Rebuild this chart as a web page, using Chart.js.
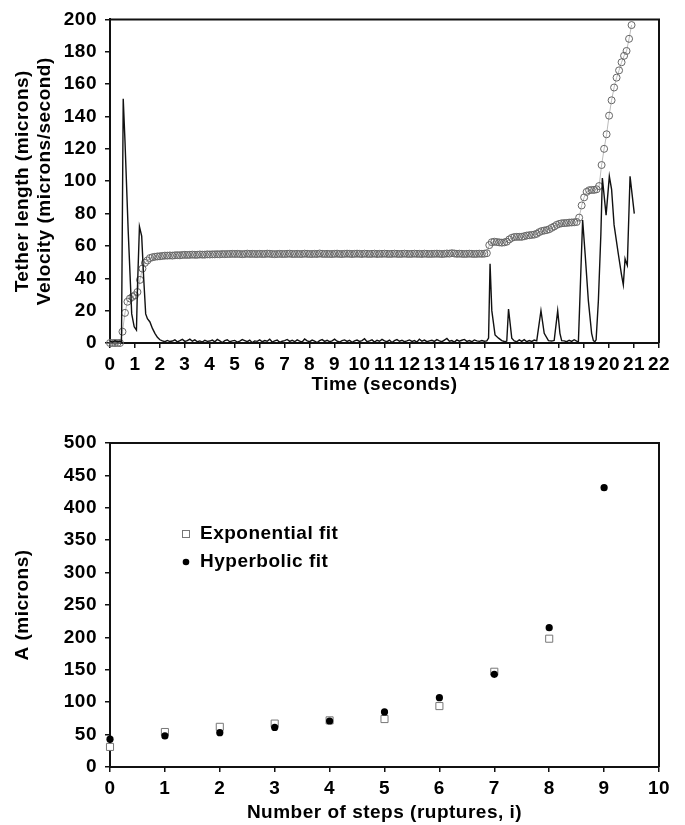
<!DOCTYPE html>
<html>
<head>
<meta charset="utf-8">
<script src="https://cdn.jsdelivr.net/npm/chart.js@4.4.1/dist/chart.umd.min.js"></script>
<style>
  body { margin: 0; background: #fff; }
  canvas { display: block; }
</style>
</head>
<body>
<canvas id="tetherChart" width="685" height="400"></canvas>
<canvas id="fitChart" width="685" height="425"></canvas>
<script>
// time axis of the tether length samples (seconds)
const tetherTime = [
  0, 0.1, 0.2, 0.3, 0.4, 0.5, 0.6, 0.7, 0.8, 0.9,
  1, 1.1, 1.2, 1.3, 1.4, 1.5, 1.6, 1.7, 1.8, 1.9,
  2, 2.1, 2.2, 2.3, 2.4, 2.5, 2.6, 2.7, 2.8, 2.9,
  3, 3.1, 3.2, 3.3, 3.4, 3.5, 3.6, 3.7, 3.8, 3.9,
  4, 4.1, 4.2, 4.3, 4.4, 4.5, 4.6, 4.7, 4.8, 4.9,
  5, 5.1, 5.2, 5.3, 5.4, 5.5, 5.6, 5.7, 5.8, 5.9,
  6, 6.1, 6.2, 6.3, 6.4, 6.5, 6.6, 6.7, 6.8, 6.9,
  7, 7.1, 7.2, 7.3, 7.4, 7.5, 7.6, 7.7, 7.8, 7.9,
  8, 8.1, 8.2, 8.3, 8.4, 8.5, 8.6, 8.7, 8.8, 8.9,
  9, 9.1, 9.2, 9.3, 9.4, 9.5, 9.6, 9.7, 9.8, 9.9,
  10, 10.1, 10.2, 10.3, 10.4, 10.5, 10.6, 10.7, 10.8, 10.9,
  11, 11.1, 11.2, 11.3, 11.4, 11.5, 11.6, 11.7, 11.8, 11.9,
  12, 12.1, 12.2, 12.3, 12.4, 12.5, 12.6, 12.7, 12.8, 12.9,
  13, 13.1, 13.2, 13.3, 13.4, 13.5, 13.6, 13.7, 13.8, 13.9,
  14, 14.1, 14.2, 14.3, 14.4, 14.5, 14.6, 14.7, 14.8, 14.9,
  15, 15.1, 15.2, 15.3, 15.4, 15.5, 15.6, 15.7, 15.8, 15.9,
  16, 16.1, 16.2, 16.3, 16.4, 16.5, 16.6, 16.7, 16.8, 16.9,
  17, 17.1, 17.2, 17.3, 17.4, 17.5, 17.6, 17.7, 17.8, 17.9,
  18, 18.1, 18.2, 18.3, 18.4, 18.5, 18.6, 18.7, 18.8, 18.9,
  19, 19.1, 19.2, 19.3, 19.4, 19.5, 19.6, 19.7, 19.8, 19.9,
  20, 20.1, 20.2, 20.3, 20.4, 20.5, 20.6, 20.7, 20.8, 20.9
];

// tether length (microns)
const tetherLength = [
  0, 0, 0, 0, 0, 7, 18.6, 25.5, 27.5, 28.5,
  29.5, 31.5, 39, 46, 49.5, 51, 52.5, 53, 53.3, 53.5,
  53.6, 53.8, 54, 54, 54.1, 54, 54.2, 54.3, 54.2, 54.4,
  54.5, 54.4, 54.5, 54.6, 54.5, 54.5, 54.7, 54.6, 54.6, 54.8,
  54.7, 54.8, 54.8, 54.9, 54.8, 55, 54.9, 55, 55, 55.1,
  55, 55.1, 55, 54.9, 55, 55.2, 55, 55.1, 55, 55,
  55.1, 55, 55, 55.2, 55.1, 55, 54.9, 55, 55.1, 55,
  55, 55.1, 55.2, 55, 55, 55.1, 55, 55, 55.2, 55.1,
  55, 55, 55.1, 55, 55.3, 55.1, 55, 55.1, 55, 55,
  55.1, 55.2, 55, 55, 55.1, 55.2, 55.1, 55, 55.1, 55.2,
  55.1, 55, 55.2, 55.1, 55, 55.1, 55.2, 55, 55.1, 55.1,
  55.2, 55.1, 55, 55.1, 55.2, 55.1, 55, 55.1, 55.2, 55.1,
  55, 55.1, 55.2, 55.1, 55.1, 55, 55.2, 55.1, 55, 55.1,
  55.1, 55.2, 55.1, 55, 55.1, 55.3, 55.2, 55.5, 55.3, 55.1,
  55.2, 55.1, 55, 55.1, 55.2, 55.1, 55, 55.1, 55.2, 55.1,
  55.2, 55.5, 60.5, 62.3, 62.6, 62.4, 62.2, 62, 62.2, 62.6,
  64, 65, 65.5, 65.6, 65.6, 65.6, 66, 66.4, 66.6, 66.8,
  67, 67.5, 68.5, 69.2, 69.5, 69.8, 70.3, 71.2, 72, 73,
  73.6, 74, 74.1, 74.2, 74.4, 74.5, 74.6, 74.8, 77.5, 85,
  90, 93.4, 94.4, 94.6, 94.6, 95, 97, 110, 120, 129,
  140.5, 150, 157.9, 164, 168.5, 173.5, 177.5, 180.5, 188, 196.5
];

// velocity trace (microns/second)
const velTime = [
  0, 0.1, 0.2, 0.3, 0.4, 0.46, 0.53, 0.6, 0.73, 0.87, 0.97, 1.06, 1.1, 1.18, 1.27,
  1.35, 1.43, 1.5, 1.6, 1.7, 1.8, 1.9, 2,
  2.1, 2.2, 2.3, 2.4, 2.5, 2.6, 2.7, 2.8, 2.9,
  3, 3.1, 3.2, 3.3, 3.4, 3.5, 3.6, 3.7, 3.8, 3.9,
  4, 4.1, 4.2, 4.3, 4.4, 4.5, 4.6, 4.7, 4.8, 4.9,
  5, 5.1, 5.2, 5.3, 5.4, 5.5, 5.6, 5.7, 5.8, 5.9,
  6, 6.1, 6.2, 6.3, 6.4, 6.5, 6.6, 6.7, 6.8, 6.9,
  7, 7.1, 7.2, 7.3, 7.4, 7.5, 7.6, 7.7, 7.8, 7.9,
  8, 8.1, 8.2, 8.3, 8.4, 8.5, 8.6, 8.7, 8.8, 8.9,
  9, 9.1, 9.2, 9.3, 9.4, 9.5, 9.6, 9.7, 9.8, 9.9,
  10, 10.1, 10.2, 10.3, 10.4, 10.5, 10.6, 10.7, 10.8, 10.9,
  11, 11.1, 11.2, 11.3, 11.4, 11.5, 11.6, 11.7, 11.8, 11.9,
  12, 12.1, 12.2, 12.3, 12.4, 12.5, 12.6, 12.7, 12.8, 12.9,
  13, 13.1, 13.2, 13.3, 13.4, 13.5, 13.6, 13.7, 13.8, 13.9,
  14, 14.1, 14.2, 14.3, 14.4, 14.5, 14.6, 14.7, 14.8, 14.9,
  15, 15.1, 15.17, 15.23, 15.3, 15.43, 15.57, 15.7, 15.83, 15.9, 15.97,
  16.1, 16.2, 16.3, 16.4, 16.5, 16.6, 16.7, 16.8, 16.9,
  17, 17.1, 17.27, 17.4, 17.57, 17.7, 17.8, 17.94, 18.03, 18.1,
  18.2, 18.3, 18.4, 18.5, 18.6, 18.7, 18.77, 18.94, 19.04, 19.17,
  19.3, 19.37, 19.43, 19.48, 19.57, 19.67, 19.73, 19.88, 20.01, 20.1,
  20.2, 20.37, 20.5, 20.57, 20.64, 20.68, 20.73, 20.84, 21.01
];

const velocity = [
  1.0, 0.6, 1.4, 0.8, 1.1, 0.6, 151, 125, 69, 18, 10, 8, 34, 72, 66,
  40, 18, 15, 13, 9, 6, 3.5, 2,
  1.3, 0.8, 1.6, 0.9, 1.2, 2.0, 0.7, 1.4, 2.2,
  1.0, 1.5, 2.4, 1.1, 1.9, 0.8, 1.3, 0.6, 1.7, 1.0,
  1.2, 1.8, 0.7, 2.2, 1.3, 0.3, 1.5, 2.0, 0.8, 1.3,
  1.6, 0.6, 1.2, 2.1, 1.5, 0.8, 1.8, 0.2, 1.3, 1.0,
  1.9, 0.8, 1.5, 1.1, 2.4, 0.6, 1.3, 1.8, 0.4, 1.1,
  1.5, 2.2, 1.0, 1.7, 0.8, 1.9, 1.1, 0.6, 2.5, 1.3,
  0.8, 1.8, 1.1, 0.3, 1.5, 2.1, 1.0, 1.7, 0.8, 1.3,
  2.4, 1.1, 0.6, 1.5, 1.9, 1.0, 1.7, 0.4, 1.3, 1.8,
  1.0, 1.5, 2.6, 0.8, 1.3, 1.9, 0.6, 1.7, 1.1, 2.2,
  1.3, 0.8, 1.8, 0.3, 1.5, 2.1, 1.1, 1.7, 0.8, 1.3,
  1.9, 1.0, 1.5, 0.6, 2.4, 1.1, 1.8, 0.8, 1.3, 1.7,
  1.0, 2.1, 1.3, 0.8, 1.8, 2.8, 1.1, 1.5, 0.6, 1.9,
  1.1, 1.7, 2.2, 1.0, 1.5, 0.8, 1.9, 1.3, 1.0, 1.5,
  1.1, 1.3, 3, 49, 20, 5, 3, 1.5, 0.8, 1.2, 21,
  3, 1.3, 0.8, 1.9, 1.0, 2.1, 0.8, 1.5, 1.0,
  1.8, 1.3, 20, 6, 1.5, 1.2, 1.6, 20, 6, 1.5,
  1.3, 0.8, 1.7, 1.0, 2.0, 1.1, 0.6, 76, 55, 26,
  6, 1.5, 0.8, 2.0, 26, 67, 102, 79, 103, 95,
  73, 55, 42, 36, 52, 50, 48, 103, 80
];

// bottom panel: A vs number of steps
const steps = [0, 1, 2, 3, 4, 5, 6, 7, 8, 9];
const expFit = [31, 54, 62, 67, 72, 74, 94, 147, 198, null];
const hypFit = [43, 48, 53, 61, 71, 85, 107, 143, 215, 431];

Chart.defaults.font.family = "'Liberation Sans', Arial, sans-serif";
Chart.defaults.font.weight = 'bold';
Chart.defaults.font.size = 19;
Chart.defaults.color = '#000';

// box frame on top and right + letter spacing for the wide scanned font
const framePlugin = {
    id: 'frame',
    beforeDraw(chart) {
        chart.ctx.letterSpacing = '0.5px';
    },
    afterDraw(chart) {
        const { ctx, chartArea: a } = chart;
        ctx.save();
        ctx.strokeStyle = '#111';
        ctx.lineWidth = 2;
        ctx.beginPath();
        ctx.moveTo(a.left, a.top);
        ctx.lineTo(a.right, a.top);
        ctx.lineTo(a.right, a.bottom);
        ctx.stroke();
        ctx.restore();
    }
};

function axisStyle(extra) {
    return Object.assign({
        type: 'linear',
        border: { display: true, color: '#111', width: 2 },
        grid: { display: true, drawOnChartArea: false, drawTicks: true, tickLength: 5, color: '#111', lineWidth: 1.5 }
    }, extra);
}

// 上图：系绳长度与速度
function createTetherChart() {
    const ctx = document.getElementById('tetherChart').getContext('2d');
    new Chart(ctx, {
        type: 'line',
        data: {
            datasets: [{
                label: 'Velocity',
                data: velTime.map((t, i) => ({ x: t, y: velocity[i] })),
                borderColor: '#111',
                borderWidth: 1.4,
                pointRadius: 0,
                tension: 0,
                clip: false
            }, {
                label: 'Tether length',
                data: tetherTime.map((t, i) => ({ x: t, y: tetherLength[i] })),
                borderColor: '#bbb',
                borderWidth: 1,
                pointRadius: 3.5,
                pointBorderColor: '#666',
                pointBorderWidth: 1,
                pointBackgroundColor: 'rgba(255,255,255,0)',
                tension: 0,
                clip: false
            }]
        },
        options: {
            responsive: false,
            animation: false,
            layout: { padding: { top: 15, right: 26, left: 0, bottom: 0 } },
            plugins: { legend: { display: false }, tooltip: { enabled: false } },
            scales: {
                x: axisStyle({
                    min: 0, max: 22,
                    ticks: { stepSize: 1, autoSkip: false, maxRotation: 0, padding: 5 },
                    title: { display: true, text: 'Time (seconds)', padding: { top: 0, bottom: 4 } },
                    afterFit(scale) { scale.height = 57; }
                }),
                y: axisStyle({
                    min: 0, max: 200,
                    ticks: { stepSize: 20, padding: 8 },
                    title: {
                        display: true,
                        text: ['Tether length (microns)', 'Velocity (microns/second)'],
                        font: { lineHeight: 1.2 },
                        padding: { top: 11, bottom: 0 }
                    },
                    afterFit(scale) { scale.width = 110; }
                })
            }
        },
        plugins: [framePlugin]
    });
}

// 下图：拟合参数 A
function createFitChart() {
    const ctx = document.getElementById('fitChart').getContext('2d');
    const legendPlugin = {
        id: 'insideLegend',
        afterDraw(chart) {
            const c = chart.ctx;
            c.save();
            c.font = "bold 19px 'Liberation Sans', Arial, sans-serif";
            c.fillStyle = '#000';
            c.textBaseline = 'middle';
            c.fillText('Exponential fit', 200, 134);
            c.fillText('Hyperbolic fit', 200, 162);
            c.strokeStyle = '#777';
            c.lineWidth = 1;
            c.fillStyle = '#fff';
            c.fillRect(182, 131, 7, 7);
            c.strokeRect(182.5, 130.5, 7, 7);
            c.fillStyle = '#000';
            c.beginPath();
            c.arc(186, 162, 3.3, 0, Math.PI * 2);
            c.fill();
            c.restore();
        }
    };
    new Chart(ctx, {
        type: 'scatter',
        data: {
            datasets: [{
                label: 'Hyperbolic fit',
                data: steps.map((s, i) => ({ x: s, y: hypFit[i] })),
                pointStyle: 'circle',
                pointRadius: 3.6,
                pointBackgroundColor: '#000',
                pointBorderColor: '#000',
                pointBorderWidth: 0,
                clip: false
            }, {
                label: 'Exponential fit',
                data: steps.map((s, i) => ({ x: s, y: expFit[i] })),
                pointStyle: 'rect',
                pointRadius: 5,
                pointBackgroundColor: '#fff',
                pointBorderColor: '#777',
                pointBorderWidth: 1,
                clip: false
            }]
        },
        options: {
            responsive: false,
            animation: false,
            layout: { padding: { top: 43, right: 26, left: 0, bottom: 0 } },
            plugins: { legend: { display: false }, tooltip: { enabled: false } },
            scales: {
                x: axisStyle({
                    min: 0, max: 10,
                    ticks: { stepSize: 1, autoSkip: false, maxRotation: 0, padding: 5 },
                    title: { display: true, text: 'Number of steps (ruptures, i)', padding: { top: 0, bottom: 1 } },
                    afterFit(scale) { scale.height = 58; }
                }),
                y: axisStyle({
                    min: 0, max: 500,
                    ticks: { stepSize: 50, padding: 8 },
                    title: {
                        display: true,
                        text: 'A (microns)',
                        font: { lineHeight: 1.2 },
                        padding: { top: 11, bottom: 0 }
                    },
                    afterFit(scale) { scale.width = 110; }
                })
            }
        },
        plugins: [framePlugin, legendPlugin]
    });
}

document.addEventListener('DOMContentLoaded', () => {
    createTetherChart();
    createFitChart();
});
</script>
</body>
</html>
